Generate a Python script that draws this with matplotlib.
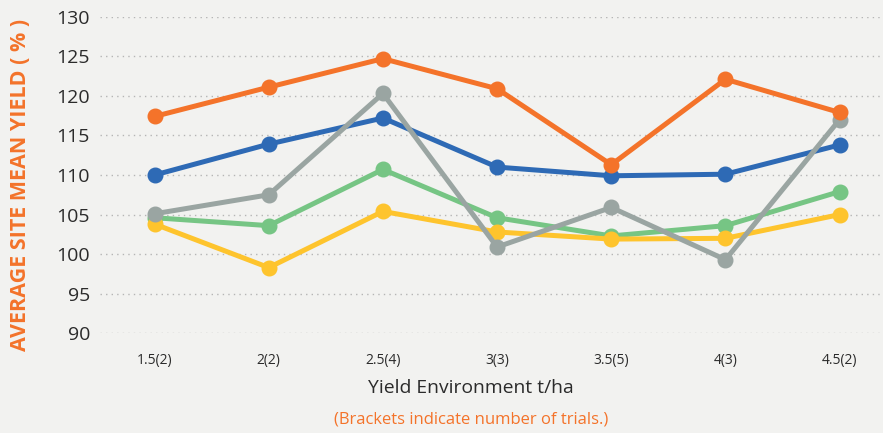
import matplotlib
matplotlib.use("Agg")
import matplotlib.pyplot as plt
import numpy as np

# ── Data ──────────────────────────────────────────────────────────────────────
categories = ["1.5(2)", "2(2)", "2.5(4)", "3(3)", "3.5(5)", "4(3)", "4.5(2)"]

blue   = [110.0, 113.9, 117.2, 111.0, 109.9, 110.1, 113.8]
green  = [104.6, 103.6, 110.7, 104.6, 102.3, 103.6, 107.9]
yellow = [103.8,  98.3, 105.4, 102.8, 101.9, 102.0, 105.0]
grey   = [105.1, 107.5, 120.3, 100.9, 105.9,  99.3, 117.0]
orange = [117.4, 121.1, 124.7, 120.9, 111.3, 122.1, 117.9]

yticks = [90, 95, 100, 105, 110, 115, 120, 125, 130]

BG = "#f2f2f0"
ORANGE = "#f4732a"
TEXT = "#2b2b2b"

plt.rcParams["font.family"] = ["Open Sans", "DejaVu Sans"]

fig = plt.figure(figsize=(8.83, 4.33), dpi=100, facecolor=BG)
ax = fig.add_axes([0.113, 0.2303, 0.887, 0.7311], facecolor=BG)

x = np.arange(len(categories))
series = [
    (blue,   "#2e6ab5"),
    (green,  "#76c584"),
    (yellow, "#fec42d"),
    (grey,   "#9aa5a2"),
    (orange, ORANGE),
]
for vals, col in series:
    ax.plot(x, vals, color=col, linewidth=3.6, marker="o", markersize=10.5,
            solid_capstyle="round", zorder=3)

ax.set_xlim(-0.48, 6.38)
ax.set_ylim(90, 130)
ax.set_yticks(yticks)
ax.set_xticks(x)
ax.set_xticklabels(categories)
ax.grid(axis="y", color="#b5b5b5", linestyle=(0, (1, 3)), linewidth=1.0, zorder=1)
ax.grid(axis="x", visible=False)
for s in ax.spines.values():
    s.set_visible(False)
ax.tick_params(axis="y", length=0, pad=7, labelsize=14, labelcolor=TEXT)
ax.tick_params(axis="x", length=0, pad=14, labelsize=10, labelcolor=TEXT)

ax.set_ylabel("AVERAGE SITE MEAN YIELD ( % )", color=ORANGE, fontsize=15.5,
              fontweight="bold")
ax.yaxis.set_label_coords(-0.088, 0.47)

fig.text(0.533, 1 - 388 / 433, "Yield Environment t/ha", ha="center", va="center",
         fontsize=13.9, color=TEXT)
fig.text(0.533, 1 - 420 / 433, "(Brackets indicate number of trials.)", ha="center",
         va="center", fontsize=12, color=ORANGE)

fig.savefig("out.png", dpi=100, facecolor=BG)
